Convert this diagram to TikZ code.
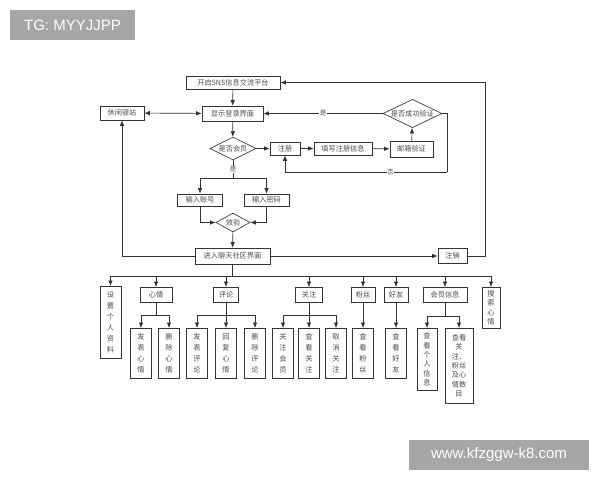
\documentclass[tikz,border=0pt]{standalone}
\usepackage{fontspec}
\newfontfamily\cjk{Noto Sans CJK SC}
\newfontfamily\wm{Liberation Sans}
\usetikzlibrary{shapes.geometric,arrows.meta}
\begin{document}
\begin{tikzpicture}[x=1pt,y=-1pt,
 box/.style={draw=black!80,line width=0.65pt,fill=white,text=black!70,font=\cjk\fontsize{7.2}{8.5}\selectfont,inner sep=0pt,align=center},
 vbox/.style={box,font=\cjk\fontsize{7.2}{11}\selectfont},
 vboxs/.style={box,font=\cjk\fontsize{7.2}{9.3}\selectfont},
 dia/.style={box,diamond,aspect=2},
 arr/.style={draw=black!80,line width=0.65pt,-{Latex[length=5.5pt,width=4.5pt]}},
 darr/.style={draw=black!80,line width=0.65pt,{Latex[length=5.5pt,width=4.5pt]}-{Latex[length=5.5pt,width=4.5pt]}},
 ln/.style={draw=black!80,line width=0.65pt},
 lab/.style={fill=white,text=black!70,font=\cjk\fontsize{6.5}{7}\selectfont,inner sep=0.5pt},
 wmk/.style={fill=black!35,text=white,font=\wm\fontsize{15}{18}\selectfont,inner sep=0pt}]
\useasboundingbox (0,0) rectangle (600,480);
\fill[white] (0,0) rectangle (600,480);
% watermarks
\node[wmk,minimum width=125,minimum height=30] (wm1) at (72.5,25) {TG: MYYJJPP};
\node[wmk,minimum width=180,minimum height=30] (wm2) at (499,455) {www.kfzggw-k8.com};
% top part
\node[box,minimum width=94,minimum height=13] (start) at (233,82.5) {开启SNS信息交流平台};
\node[box,minimum width=61,minimum height=15] (login) at (232.5,113.5) {显示登录界面};
\node[box,minimum width=44,minimum height=14] (rest) at (122,113) {休闲驿站};
\node[dia,minimum width=46,minimum height=23] (member) at (233,148.5) {是否会员};
\node[box,minimum width=30,minimum height=13] (reg) at (285,148.5) {注册};
\node[box,minimum width=58,minimum height=13] (fillin) at (343,148.5) {填写注册信息};
\node[box,minimum width=43,minimum height=16] (email) at (411.5,149) {邮箱验证};
\node[dia,minimum width=59,minimum height=27] (verify) at (412.5,113.5) {是否成功验证};
\node[box,minimum width=45,minimum height=12] (acc) at (200,200) {输入账号};
\node[box,minimum width=45,minimum height=12] (pwd) at (266.5,200) {输入密码};
\node[dia,minimum width=34,minimum height=19] (check) at (233,222.5) {效验};
\node[box,minimum width=75,minimum height=16] (chat) at (232.5,256) {进入聊天社区界面};
\node[box,minimum width=29,minimum height=15] (logout) at (452.5,256) {注销};
% level 2
\node[vbox,minimum width=21,minimum height=72,anchor=north] (prof) at (110.5,286) {设\\置\\个\\人\\资\\料};
\node[box,minimum width=32,minimum height=15,anchor=north] (mood) at (156,287) {心情};
\node[box,minimum width=25,minimum height=15,anchor=north] (cmt) at (226,287) {评论};
\node[box,minimum width=27,minimum height=15,anchor=north] (fol) at (309,287) {关注};
\node[box,minimum width=24,minimum height=15,anchor=north] (fan) at (363,287) {粉丝};
\node[box,minimum width=24,minimum height=15,anchor=north] (fri) at (396,287) {好友};
\node[box,minimum width=44,minimum height=15,anchor=north] (info) at (445,287) {会员信息};
\node[vboxs,minimum width=18,minimum height=41,anchor=north] (srch) at (491,287) {搜\\索\\心\\情};
% level 3
\node[vbox,minimum width=21,minimum height=50,anchor=north] (m1) at (141,328) {发\\表\\心\\情};
\node[vbox,minimum width=21,minimum height=50,anchor=north] (m2) at (169,328) {删\\除\\心\\情};
\node[vbox,minimum width=21,minimum height=50,anchor=north] (c1) at (197,328) {发\\表\\评\\论};
\node[vbox,minimum width=21,minimum height=50,anchor=north] (c2) at (226,328) {回\\复\\心\\情};
\node[vbox,minimum width=21,minimum height=50,anchor=north] (c3) at (255,328) {删\\除\\评\\论};
\node[vbox,minimum width=21,minimum height=50,anchor=north] (f1) at (283,328) {关\\注\\会\\员};
\node[vbox,minimum width=21,minimum height=50,anchor=north] (f2) at (309,328) {查\\看\\关\\注};
\node[vbox,minimum width=21,minimum height=50,anchor=north] (f3) at (336,328) {取\\消\\关\\注};
\node[vbox,minimum width=21,minimum height=50,anchor=north] (fa1) at (363,328) {查\\看\\粉\\丝};
\node[vbox,minimum width=21,minimum height=50,anchor=north] (fr1) at (396,328) {查\\看\\好\\友};
\node[vboxs,minimum width=20,minimum height=62,anchor=north] (i1) at (427,328) {查\\看\\个\\人\\信\\息};
\node[vboxs,minimum width=28,minimum height=75,anchor=north] (i2) at (459,328) {查看\\关\\注、\\粉丝\\及心\\情数\\目};
% connectors top
\draw[arr] (start) -- (login);
\draw[darr] (login) -- (rest);
\draw[arr] (login) -- (member);
\draw[arr] (member) -- (reg);
\draw[arr] (reg) -- (fillin);
\draw[arr] (fillin) -- (email);
\draw[arr] (email) -- (verify);
\draw[arr] (verify.west) -- node[lab] (yes1) {是} (login.east);
\coordinate (v1) at (447,113.5);
\coordinate (v2) at (447,172);
\draw[ln] (verify.east) -- (v1) -- (v2);
\draw[arr] (v2) -- node[lab,pos=0.35] (no1) {否} (v2 -| reg.south) -- (reg.south);
\coordinate (mj) at (233,178);
\draw[ln] (member.south) -- node[lab] (yes2) {是} (mj);
\draw[arr] (mj) -| (acc.north);
\draw[arr] (mj) -| (pwd.north);
\draw[arr] (acc.south) |- (check.west);
\draw[arr] (pwd.south) |- (check.east);
\draw[arr] (check) -- (chat);
\draw[arr] (chat) -- (logout);
\coordinate (r1) at (485,256);
\coordinate (r2) at (485,82.5);
\draw[arr] (logout.east) -- (r1) -- (r2) -- (start.east);
\draw[arr] (chat.west) -| (rest.south);
% bus
\coordinate (bus) at (232.5,276);
\draw[ln] (chat.south) -- (bus);
\draw[ln] (prof.north |- bus) -- (srch.north |- bus);
\foreach \n in {prof,mood,cmt,fol,fan,fri,info,srch}
  \draw[arr] (\n.north |- bus) -- (\n.north);
% level 3 connectors
\coordinate (jm) at (156,315);
\draw[ln] (mood.south) -- (jm);
\draw[arr] (jm) -| (m1.north);
\draw[arr] (jm) -| (m2.north);
\coordinate (jc) at (226,315);
\draw[ln] (cmt.south) -- (jc);
\draw[arr] (jc) -| (c1.north);
\draw[arr] (jc) -- (c2.north);
\draw[arr] (jc) -| (c3.north);
\coordinate (jf) at (309,315);
\draw[ln] (fol.south) -- (jf);
\draw[arr] (jf) -| (f1.north);
\draw[arr] (jf) -- (f2.north);
\draw[arr] (jf) -| (f3.north);
\draw[arr] (fan) -- (fa1);
\draw[arr] (fri) -- (fr1);
\coordinate (ji) at (445,316);
\draw[ln] (info.south) -- (ji);
\draw[arr] (ji) -| (i1.north);
\draw[arr] (ji) -| (i2.north);
\end{tikzpicture}
\end{document}
